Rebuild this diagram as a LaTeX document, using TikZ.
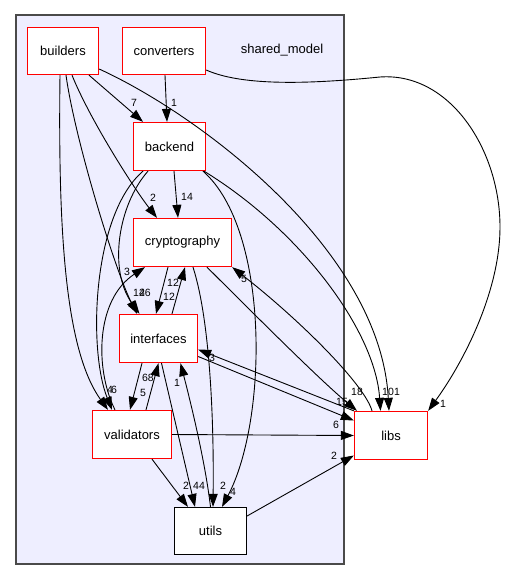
\documentclass[tikz,border=0pt]{standalone}
\usepackage{fontspec}
\setmainfont{Liberation Sans}
\usetikzlibrary{arrows.meta}
\definecolor{clusterfill}{HTML}{EEEEFF}
\definecolor{clusterborder}{HTML}{4A4A4A}
\definecolor{boxred}{HTML}{FF0000}
\tikzset{
  clusterbox/.style={draw=clusterborder, fill=clusterfill, line width=1.2pt, inner sep=0},
  dirbox/.style={draw=boxred, fill=white, line width=1.3pt, inner sep=0, font=\fontsize{13}{15}\selectfont},
  utilbox/.style={draw=black, fill=white, line width=1.2pt, inner sep=0, font=\fontsize{13}{15}\selectfont},
  dep/.style={-{Triangle[length=13pt,width=9pt]}, line width=0.9pt, black},
  num/.style={inner sep=0, font=\fontsize{10.5}{12}\selectfont},
  titletext/.style={inner sep=0, font=\fontsize{13}{15}\selectfont}
}
\begin{document}
\begin{tikzpicture}[x=1pt,y=-1pt]
\useasboundingbox (0,0) rectangle (507,581);
\node[clusterbox, minimum width=328pt, minimum height=549pt] (sharedmodel) at (180,289.5) {};
\node[titletext] (title) at (282,50) {shared\_model};

\node[dirbox, minimum width=71pt, minimum height=47pt] (builders) at (63,51) {builders};
\node[dirbox, minimum width=83pt, minimum height=47pt] (converters) at (164,51) {converters};
\node[dirbox, minimum width=72pt, minimum height=48pt] (backend) at (169.5,146.5) {backend};
\node[dirbox, minimum width=98pt, minimum height=48pt] (cryptography) at (182.5,242.5) {cryptography};
\node[dirbox, minimum width=78pt, minimum height=48pt] (interfaces) at (158.5,338.5) {interfaces};
\node[dirbox, minimum width=79pt, minimum height=48pt] (validators) at (132,434.5) {validators};
\node[utilbox, minimum width=72pt, minimum height=47pt] (utils) at (210.5,531) {utils};
\node[dirbox, minimum width=73pt, minimum height=48pt] (libs) at (391,435.5) {libs};

% builders
\draw[dep] ([xshift=26pt]builders.south) -- ([xshift=-26.5pt]backend.north);
\draw[dep] ([xshift=-3pt]builders.south) .. controls (58,230) and (65,350) .. ([xshift=-24pt]validators.north);
\draw[dep] ([xshift=3pt]builders.south) .. controls (75,140) and (115,270) .. ([xshift=-21.5pt]interfaces.north);
\draw[dep] ([xshift=9pt]builders.south) .. controls (90,120) and (135,190) .. ([xshift=-25.5pt]cryptography.north);
\draw[dep] ([yshift=-18pt]builders.east) .. controls (200,115) and (380,250) .. ([xshift=-2pt]libs.north);
% converters
\draw[dep] ([xshift=1pt]converters.south) -- ([xshift=-2.5pt]backend.north);
\draw[dep] ([yshift=-19pt]converters.east) .. controls (240,85) and (300,85) .. (380,77) .. controls (450,72) and (500,150) .. (500,227) .. controls (500,290) and (465,360) .. (libs.north east);
% backend
\draw[dep] ([xshift=4.5pt]backend.south) -- ([xshift=-4.5pt]cryptography.north);
\draw[dep] ([xshift=-21.5pt]backend.south) .. controls (118,205) and (108,270) .. ([xshift=-19pt]interfaces.north);
\draw[dep] ([xshift=-26.5pt]backend.south) .. controls (92,215) and (88,350) .. ([xshift=-20pt]validators.north);
\draw[dep] ([xshift=33.5pt]backend.south) .. controls (270,230) and (268,420) .. ([xshift=11.5pt]utils.north);
\draw[dep] ([xshift=34.5pt]backend.south) .. controls (300,230) and (375,330) .. ([xshift=-10.5pt]libs.north);
% cryptography
\draw[dep] ([xshift=-14.5pt]cryptography.south) -- ([xshift=-2.5pt]interfaces.north);
\draw[dep] ([xshift=10.5pt]cryptography.south) .. controls (210,320) and (214,420) .. ([xshift=2.5pt]utils.north);
\draw[dep] ([xshift=24.5pt]cryptography.south) .. controls (260,320) and (320,380) .. ([xshift=-34pt]libs.north);
% interfaces
\draw[dep] ([xshift=13.5pt]interfaces.north) -- ([xshift=2.5pt]cryptography.south);
\draw[dep] ([xshift=-16.5pt]interfaces.south) -- ([xshift=-2pt]validators.north);
\draw[dep] ([xshift=3pt]interfaces.south) -- ([xshift=-15.5pt]utils.north);
\draw[dep] ([yshift=-18pt]interfaces.east) -- ([yshift=15pt]libs.west);
% validators
\draw[dep] ([xshift=14pt]validators.north) -- (interfaces.south);
\draw[dep] ([xshift=-17pt]validators.north) .. controls (95,370) and (95,300) .. ([xshift=-37.5pt]cryptography.south);
\draw[dep] (validators.east) -- (libs.west);
\draw[dep] ([xshift=20pt]validators.south) -- ([xshift=-22.5pt]utils.north);
% utils
\draw[dep] (utils.north) .. controls (205,460) and (190,400) .. ([xshift=22pt]interfaces.south);
\draw[dep] ([yshift=15pt]utils.east) -- ([yshift=-20pt]libs.west);
% libs
\draw[dep] ([xshift=-19pt]libs.north) .. controls (365,385) and (300,320) .. (cryptography.south east);
\draw[dep] (libs.north west) -- ([yshift=-11pt]interfaces.east);

% labels
\node[num] (n1) at (134,103) {7};
\node[num] (n2) at (174,103) {1};
\node[num] (n3) at (153,198) {2};
\node[num] (n4) at (187,197) {14};
\node[num] (n5) at (127,272) {3};
\node[num] (n6) at (139,293) {14};
\node[num] (n7) at (145,293) {26};
\node[num] (n8) at (173,283) {12};
\node[num] (n9) at (169,297) {12};
\node[num] (n10) at (244,279) {5};
\node[num] (n11) at (212,358) {3};
\node[num] (n12) at (110,390) {4};
\node[num] (n13) at (114,390) {6};
\node[num] (n14) at (148,378) {68};
\node[num] (n15) at (143,393) {5};
\node[num] (n16) at (177,383) {1};
\node[num] (n17) at (186,486) {2};
\node[num] (n18) at (199,486) {44};
\node[num] (n19) at (223,486) {2};
\node[num] (n20) at (233,492) {4};
\node[num] (n21) at (336,425) {6};
\node[num] (n22) at (334,456) {2};
\node[num] (n23) at (357,392) {18};
\node[num] (n24) at (342,402) {15};
\node[num] (n25) at (388,392) {10};
\node[num] (n26) at (397,392) {1};
\node[num] (n27) at (443,404) {1};
\end{tikzpicture}
\end{document}
